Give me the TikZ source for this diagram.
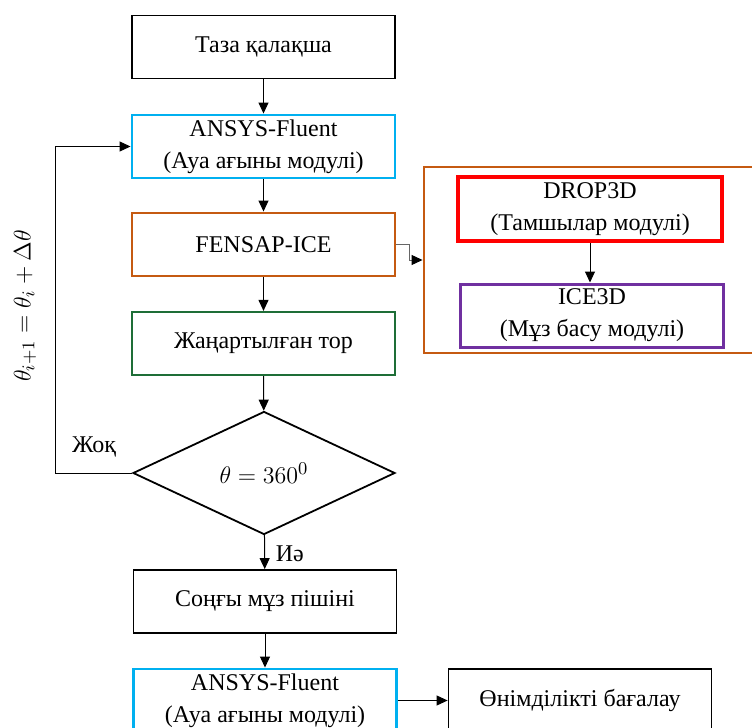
\documentclass[tikz,border=0pt]{standalone}
\usepackage{fontspec}
\setmainfont{Liberation Serif}
\usetikzlibrary{shapes.geometric,arrows.meta}

\definecolor{cyanbox}{RGB}{0,176,240}
\definecolor{brownbox}{RGB}{197,90,17}
\definecolor{greenbox}{RGB}{30,110,55}
\definecolor{purplebox}{RGB}{112,48,160}

\tikzset{
    blok/.style={draw, line width=0.9pt, minimum width=131.5pt, minimum height=31.5pt,
                 align=center, inner sep=0pt, font=\fontsize{12}{16}\selectfont},
    arr/.style={line width=0.5pt, -{Triangle[length=5.5pt,width=5pt]}},
    belgi/.style={font=\fontsize{12}{14}\selectfont}
}

\begin{document}
\begin{tikzpicture}[x=0.5pt, y=-0.5pt]
        \useasboundingbox (0,0) rectangle (752,728);
        \clip (0,0) rectangle (752,728);

        % Negizgi bloktar
        \node[blok] (taza) at (263.5,47) {Таза қалақша};
        \node[blok, draw=cyanbox, line width=1.45pt] (ansys1) at (263.5,146.5) {ANSYS-Fluent\\(Ауа ағыны модулі)};
        \node[blok, draw=brownbox, line width=1.45pt] (fensap) at (263.5,244.5) {FENSAP-ICE};
        \node[blok, draw=greenbox, line width=1.1pt] (tor) at (263.5,343.5) {Жаңартылған тор};
        \node[draw, diamond, line width=0.9pt, minimum width=131pt, minimum height=61.5pt,
              inner sep=0pt, font=\fontsize{13}{15}\selectfont] (shart) at (264,473) {$\theta = 360^0$};
        \node[blok] (songy) at (265,601.5) {Соңғы мұз пішіні};
        \node[blok, draw=cyanbox, line width=1.45pt] (ansys2) at (265,700.5) {ANSYS-Fluent\\(Ауа ағыны модулі)};
        \node[blok] (onim) at (580,700.5) {Өнімділікті бағалау};

        % FENSAP-ICE ishki moduldari
        \node[draw=brownbox, line width=1.45pt, minimum width=173pt, minimum height=93pt,
              inner sep=0pt] (fensapmod) at (597,260) {};
        \node[blok, draw=red, line width=2pt, minimum width=132pt, minimum height=32pt] (drop) at (590,209) {DROP3D\\(Тамшылар модулі)};
        \node[blok, draw=purplebox, line width=1.5pt] (ice) at (592,315.5) {ICE3D\\(Мұз басу модулі)};

        % Baylanystar
        \draw[arr] (taza) -- (ansys1);
        \draw[arr] (ansys1) -- (fensap);
        \draw[arr] (fensap) -- (tor);
        \draw[arr] (tor) -- (shart);
        \draw[arr] (shart) -- node[belgi, right, xshift=2pt, yshift=-1pt] {Иә} (songy);
        \draw[arr] (songy) -- (ansys2);
        \draw[arr] (ansys2) -- (onim);
        \draw[arr] (drop.south) -- (drop.south |- ice.north);
        \draw[line width=0.5pt, gray!80!black, -{Triangle[length=5.5pt,width=5pt,color=black]}]
            (fensap.east) -- ++(13,0) |- (fensapmod.west);

        % Kayta oralu
        \coordinate (kayta) at (55,473);
        \draw[arr] (shart.west) -- (kayta) |- (ansys1.west);
        \node[belgi] (zhok) at (94,447) {Жоқ};
        \node[belgi, rotate=90, font=\fontsize{13}{15}\selectfont] (qadam) at (25,306) {$\theta_{i+1} = \theta_i + \Delta\theta$};
    \end{tikzpicture}
\end{document}
